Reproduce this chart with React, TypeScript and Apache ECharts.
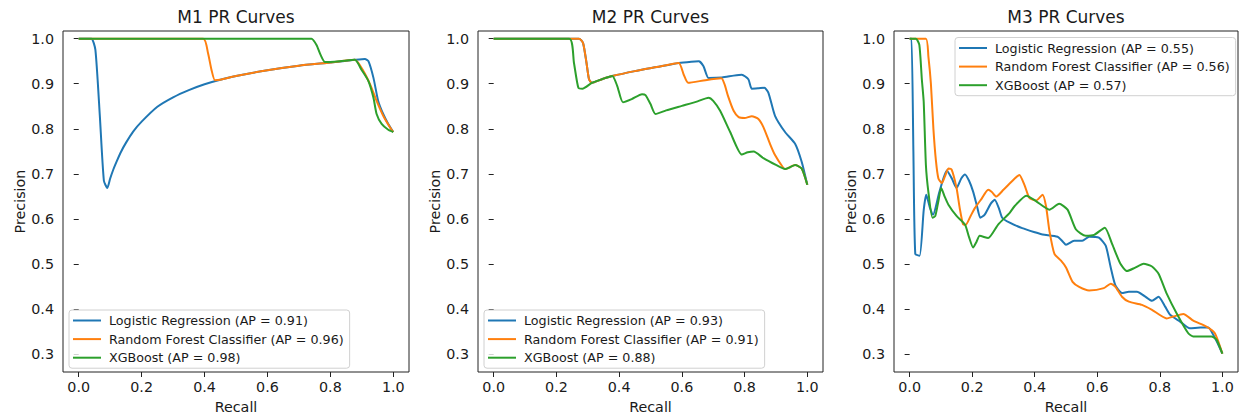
import React, { useEffect, useRef } from "react";
import * as echarts from "echarts";

// ---------- data ----------
const xTicks = [0, 0.2, 0.4, 0.6, 0.8, 1.0];
const yTicks = [0.3, 0.4, 0.5, 0.6, 0.7, 0.8, 0.9, 1.0];
const panelTitles = ["M1 PR Curves", "M2 PR Curves", "M3 PR Curves"];
const modelNames = ["Logistic Regression", "Random Forest Classifier", "XGBoost"];
const m1AP = [0.91, 0.96, 0.98];
const m2AP = [0.93, 0.91, 0.88];
const m3AP = [0.55, 0.56, 0.57];

// [recall, precision]
const m1Logistic = [
  [0, 1.0], [0.04, 1.0], [0.053, 0.975], [0.067, 0.83], [0.08, 0.685], [0.091, 0.669],
  [0.1, 0.69], [0.11, 0.71], [0.12, 0.727], [0.135, 0.75], [0.15, 0.769], [0.173, 0.794],
  [0.2, 0.816], [0.25, 0.849], [0.3, 0.87], [0.35, 0.886], [0.4, 0.899], [0.45, 0.909],
  [0.5, 0.917], [0.6, 0.93], [0.7, 0.94], [0.8, 0.947], [0.878, 0.953], [0.91, 0.955],
  [0.921, 0.95], [0.937, 0.913], [0.952, 0.862], [0.968, 0.833], [0.984, 0.811], [1.0, 0.793],
];
const m1Forest = [
  [0, 1.0], [0.396, 1.0], [0.411, 0.968], [0.422, 0.931], [0.433, 0.908], [0.45, 0.909],
  [0.5, 0.917], [0.6, 0.93], [0.7, 0.94], [0.8, 0.947], [0.878, 0.953], [0.905, 0.928],
  [0.926, 0.899], [0.947, 0.862], [0.968, 0.829], [0.989, 0.804], [1.0, 0.793],
];
const m1XGB = [
  [0, 1.0], [0.74, 1.0], [0.756, 0.986], [0.769, 0.964], [0.783, 0.948], [0.83, 0.95],
  [0.878, 0.953], [0.899, 0.931], [0.921, 0.906], [0.937, 0.869], [0.947, 0.833],
  [0.963, 0.811], [0.984, 0.798], [1.0, 0.793],
];

const m2Logistic = [
  [0, 1.0], [0.272, 1.0], [0.285, 0.99], [0.296, 0.946], [0.304, 0.91], [0.313, 0.902],
  [0.345, 0.91], [0.378, 0.917], [0.45, 0.928], [0.52, 0.937], [0.59, 0.946], [0.63, 0.949],
  [0.654, 0.95], [0.669, 0.939], [0.685, 0.913], [0.728, 0.914], [0.765, 0.918], [0.791, 0.92],
  [0.812, 0.91], [0.823, 0.889], [0.845, 0.89], [0.863, 0.891], [0.876, 0.88], [0.897, 0.829],
  [0.929, 0.793], [0.961, 0.767], [0.982, 0.727], [1.0, 0.676],
];
const m2Forest = [
  [0, 1.0], [0.272, 1.0], [0.285, 0.99], [0.296, 0.946], [0.304, 0.91], [0.313, 0.902],
  [0.345, 0.91], [0.378, 0.917], [0.45, 0.928], [0.52, 0.937], [0.59, 0.946], [0.606, 0.92],
  [0.62, 0.902], [0.675, 0.908], [0.726, 0.912], [0.736, 0.899], [0.747, 0.873], [0.765, 0.84],
  [0.781, 0.826], [0.8, 0.824], [0.823, 0.828], [0.844, 0.822], [0.86, 0.804], [0.881, 0.767],
  [0.897, 0.742], [0.921, 0.716], [0.929, 0.711], [0.961, 0.72], [0.982, 0.712], [1.0, 0.676],
];
const m2XGB = [
  [0, 1.0], [0.241, 1.0], [0.256, 0.946], [0.27, 0.891], [0.283, 0.889], [0.313, 0.902],
  [0.345, 0.91], [0.378, 0.917], [0.394, 0.895], [0.412, 0.859], [0.44, 0.866], [0.473, 0.877],
  [0.484, 0.875], [0.5, 0.855], [0.516, 0.833], [0.55, 0.841], [0.6, 0.851], [0.65, 0.861],
  [0.685, 0.869], [0.7, 0.862], [0.722, 0.84], [0.754, 0.793], [0.791, 0.743], [0.81, 0.748],
  [0.829, 0.75], [0.86, 0.735], [0.9, 0.72], [0.929, 0.711], [0.945, 0.715], [0.961, 0.72],
  [0.982, 0.712], [1.0, 0.676],
];

const m3Logistic = [
  [0, 1.0], [0.006, 1.0], [0.012, 0.75], [0.018, 0.523], [0.032, 0.519], [0.045, 0.62],
  [0.053, 0.654], [0.065, 0.625], [0.075, 0.61], [0.095, 0.66], [0.119, 0.708], [0.135, 0.69],
  [0.15, 0.669], [0.165, 0.69], [0.177, 0.699], [0.19, 0.685], [0.203, 0.661], [0.215, 0.63],
  [0.226, 0.603], [0.24, 0.61], [0.26, 0.635], [0.272, 0.643], [0.285, 0.625], [0.296, 0.603],
  [0.32, 0.592], [0.36, 0.58], [0.4, 0.571], [0.425, 0.566], [0.473, 0.561], [0.49, 0.55],
  [0.5, 0.543], [0.526, 0.552], [0.552, 0.552], [0.574, 0.561], [0.605, 0.559], [0.627, 0.541],
  [0.643, 0.493], [0.658, 0.453], [0.679, 0.436], [0.701, 0.439], [0.727, 0.439], [0.75, 0.43],
  [0.775, 0.419], [0.796, 0.428], [0.817, 0.406], [0.833, 0.388], [0.865, 0.373], [0.896, 0.358],
  [0.93, 0.36], [0.955, 0.36], [0.97, 0.345], [0.985, 0.325], [1.0, 0.302],
];
const m3Forest = [
  [0, 1.0], [0.052, 1.0], [0.06, 0.96], [0.068, 0.9], [0.076, 0.8], [0.084, 0.73],
  [0.092, 0.69], [0.103, 0.68], [0.113, 0.695], [0.124, 0.712], [0.134, 0.71], [0.15, 0.669],
  [0.16, 0.625], [0.171, 0.588], [0.179, 0.587], [0.195, 0.607], [0.209, 0.625], [0.23, 0.645],
  [0.251, 0.665], [0.263, 0.66], [0.277, 0.65], [0.3, 0.665], [0.336, 0.69], [0.351, 0.698],
  [0.367, 0.676], [0.383, 0.647], [0.404, 0.641], [0.425, 0.654], [0.436, 0.629], [0.447, 0.574],
  [0.463, 0.523], [0.484, 0.508], [0.5, 0.493], [0.521, 0.461], [0.542, 0.45], [0.574, 0.442],
  [0.621, 0.447], [0.643, 0.457], [0.658, 0.45], [0.679, 0.428], [0.701, 0.417], [0.743, 0.41],
  [0.775, 0.399], [0.822, 0.38], [0.843, 0.384], [0.875, 0.39], [0.907, 0.375], [0.949, 0.362],
  [0.976, 0.347], [1.0, 0.302],
];
const m3XGB = [
  [0, 1.0], [0.02, 1.0], [0.031, 0.986], [0.039, 0.91], [0.045, 0.86], [0.052, 0.72],
  [0.06, 0.66], [0.073, 0.603], [0.082, 0.607], [0.092, 0.64], [0.101, 0.669], [0.112, 0.65],
  [0.124, 0.632], [0.15, 0.607], [0.177, 0.588], [0.19, 0.56], [0.203, 0.537], [0.214, 0.55],
  [0.224, 0.563], [0.251, 0.558], [0.283, 0.588], [0.32, 0.614], [0.336, 0.629], [0.373, 0.652],
  [0.404, 0.64], [0.447, 0.621], [0.478, 0.634], [0.505, 0.621], [0.532, 0.577], [0.563, 0.563],
  [0.59, 0.565], [0.624, 0.581], [0.648, 0.544], [0.674, 0.501], [0.695, 0.485], [0.72, 0.492],
  [0.748, 0.501], [0.775, 0.495], [0.796, 0.479], [0.822, 0.435], [0.854, 0.391], [0.891, 0.347],
  [0.907, 0.34], [0.965, 0.34], [0.981, 0.333], [1.0, 0.302],
];

const panelCurves = [
  [m1Logistic, m1Forest, m1XGB],
  [m2Logistic, m2Forest, m2XGB],
  [m3Logistic, m3Forest, m3XGB],
];
const panelAP = [m1AP, m2AP, m3AP];

// ---------- styling / layout ----------
const COLORS = ["#1f77b4", "#ff7f0e", "#2ca02c"];
const FONT = "DejaVu Sans";
const TEXT = "#1a1a1a";
const grids = [
  { left: 63, top: 31, width: 346, height: 345 },
  { left: 478, top: 31, width: 345, height: 345 },
  { left: 894, top: 31, width: 344, height: 345 },
];
const legendPos = [
  { left: 69, top: 310 },
  { left: 484, top: 310 },
  { left: 955, top: 37.5 },
];

export default function App() {
  const ref = useRef<HTMLDivElement>(null);

  useEffect(() => {
    if (!ref.current) return;
    const chart = echarts.init(ref.current, null, { renderer: "svg" });

    const fmt = (v: number) => v.toFixed(1);
    const xAxes: any[] = [];
    const yAxes: any[] = [];
    const series: any[] = [];
    const legends: any[] = [];
    const titles: any[] = [];

    grids.forEach((g, i) => {
      titles.push({
        text: panelTitles[i],
        left: g.left + g.width / 2,
        top: 8,
        padding: 0,
        textAlign: "center",
        textVerticalAlign: "top",
        textStyle: { fontFamily: FONT, fontSize: 17, fontWeight: "normal", color: TEXT },
      });
      xAxes.push({
        type: "value",
        gridIndex: i,
        min: -0.05,
        max: 1.05,
        name: "Recall",
        nameLocation: "middle",
        nameGap: 28,
        nameTextStyle: { fontFamily: FONT, fontSize: 14.3, color: TEXT },
        axisLine: { show: false },
        axisTick: { show: true, inside: false, length: 5, customValues: xTicks, lineStyle: { color: "#222", width: 1 } },
        axisLabel: { customValues: xTicks, formatter: fmt, margin: 8, fontFamily: FONT, fontSize: 14.3, color: TEXT },
        splitLine: { show: false },
      });
      yAxes.push({
        type: "value",
        gridIndex: i,
        min: 0.2612,
        max: 1.0169,
        name: "Precision",
        nameLocation: "middle",
        nameGap: 36,
        nameTextStyle: { fontFamily: FONT, fontSize: 14.3, color: TEXT },
        axisLine: { show: false },
        axisTick: { show: true, inside: false, length: 5, customValues: yTicks, lineStyle: { color: "#222", width: 1 } },
        axisLabel: { customValues: yTicks, formatter: fmt, margin: 9, fontFamily: FONT, fontSize: 14.3, color: TEXT },
        splitLine: { show: false },
      });
      const names: string[] = [];
      panelCurves[i].forEach((curve, j) => {
        const name = `${modelNames[j]} (AP = ${panelAP[i][j].toFixed(2)})`;
        names.push(name);
        series.push({
          type: "line",
          name,
          xAxisIndex: i,
          yAxisIndex: i,
          data: curve,
          showSymbol: false,
          smooth: 0.2,
          color: COLORS[j],
          lineStyle: { width: 2, color: COLORS[j] },
          clip: true,
          z: 2 + j,
        });
      });
      legends.push({
        data: names,
        left: legendPos[i].left,
        top: legendPos[i].top,
        orient: "vertical",
        icon: "rect",
        itemWidth: 28,
        itemHeight: 2,
        itemGap: 4.6,
        selectedMode: false,
        padding: [3.5, 6, 3.5, 4],
        backgroundColor: "rgba(255,255,255,0.8)",
        borderColor: "#d0d0d0",
        borderWidth: 1,
        borderRadius: 3,
        textStyle: { fontFamily: FONT, fontSize: 12.7, color: TEXT, lineHeight: 14, padding: [0, 0, 0, 3] },
      });
    });

    chart.setOption({
      animation: false,
      backgroundColor: "#ffffff",
      title: titles,
      grid: grids.map((g) => ({ ...g, show: true, borderColor: "#222", borderWidth: 1, backgroundColor: "transparent" })),
      xAxis: xAxes,
      yAxis: yAxes,
      legend: legends,
      series,
    });

    return () => chart.dispose();
  }, []);

  return (
    <div
      ref={ref}
      style={{ position: "absolute", left: 0, top: 0, width: 1239, height: 419, background: "#fff" }}
    />
  );
}
